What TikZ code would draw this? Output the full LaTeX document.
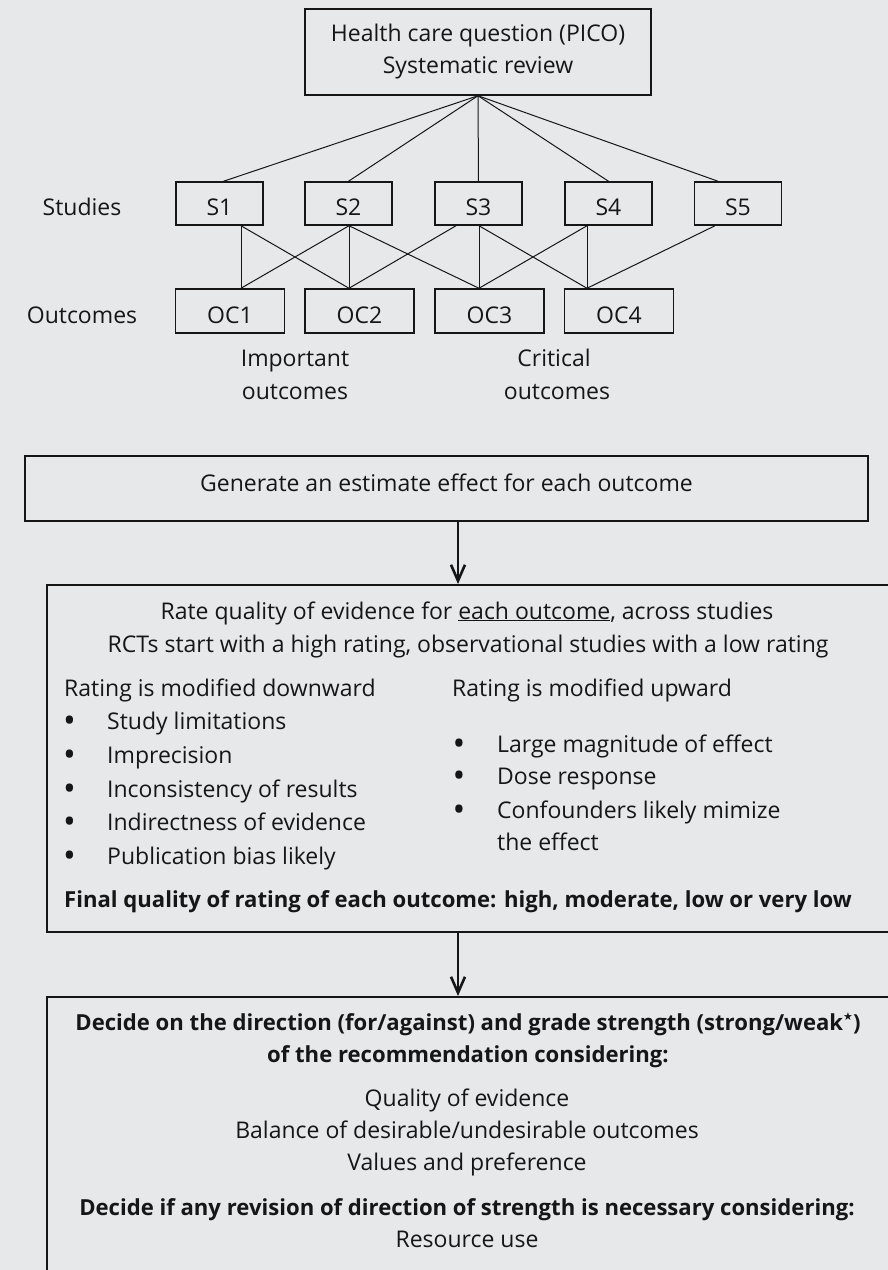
\documentclass[tikz,border=0pt]{standalone}
\usepackage{fontspec}
\setmainfont{Open Sans}
\newfontfamily\djv{DejaVu Sans}
\usetikzlibrary{arrows.meta}
\definecolor{bg}{RGB}{231,232,234}
\definecolor{ink}{RGB}{22,22,22}
\newcommand{\bul}{{\fontsize{34}{32}\selectfont\raisebox{-3.5pt}{\textbullet}}}
\newcommand{\supstar}{\raisebox{10pt}{\djv\fontsize{11}{11}\selectfont ★}}
\begin{document}
\begin{tikzpicture}[x=1pt,y=-1pt,
  every node/.style={font=\fontsize{23}{32}\selectfont, text=ink, inner sep=0pt},
  box/.style={draw=ink, line width=1.5pt, rectangle},
  sbox/.style={box, minimum width=87pt, minimum height=43pt, text height=23pt, text depth=0pt},
  obox/.style={box, minimum width=109pt, minimum height=44pt, text height=24pt, text depth=0pt},
  link/.style={draw=ink, line width=1pt},
  arr/.style={draw=ink, line width=1.5pt, -{Straight Barb[length=16pt,width=14pt,line width=2.6pt]}},
  txt/.style={anchor=base},
  ltxt/.style={anchor=base west},
  btxt/.style={anchor=base, font=\fontsize{22.1}{32}\selectfont\bfseries},
]
\useasboundingbox (0,0) rectangle (888,1270);
\fill[bg] (0,0) rectangle (888,1270);
\clip (0,0) rectangle (888,1270);

% top box
\node[box, minimum width=346pt, minimum height=86pt, align=center] (q) at (478,52) {Health care question (PICO)\\Systematic review};

% studies
\node[txt] (studies) at (82,215) {Studies};
\node[sbox] (S1) at (219.5,203.5) {S1};
\node[sbox] (S2) at (348.5,203.5) {S2};
\node[sbox] (S3) at (478.5,203.5) {S3};
\node[sbox] (S4) at (608.5,203.5) {S4};
\node[sbox] (S5) at (738,203.5) {S5};

% outcomes
\node[txt] (outcomes) at (82,323) {Outcomes};
\node[obox] (OC1) at (230,311) {OC1};
\node[obox] (OC2) at (359.5,311) {OC2};
\node[obox] (OC3) at (489.5,311) {OC3};
\node[obox] (OC4) at (619,311) {OC4};

\node[txt] (imp1) at (295,366) {Important};
\node[txt] (imp2) at (295,399) {outcomes};
\node[txt] (crit1) at (554,366) {Critical};
\node[txt] (crit2) at (557,399) {outcomes};

% fan
\draw[link] (q.south) -- ([xshift=4pt]S1.north);
\draw[link] (q.south) -- (S2.north);
\draw[link] (q.south) -- (S3.north);
\draw[link] (q.south) -- (S4.north);
\draw[link] (q.south) -- ([xshift=-20pt]S5.north);

% study-outcome links
\draw[link] ([xshift=21.5pt]S1.south) -- ([xshift=11pt]OC1.north);
\draw[link] ([xshift=21.5pt]S1.south) -- ([xshift=-10.5pt]OC2.north);
\draw[link] ([xshift=0.5pt]S2.south) -- ([xshift=11pt]OC1.north);
\draw[link] ([xshift=0.5pt]S2.south) -- ([xshift=-10.5pt]OC2.north);
\draw[link] ([xshift=0.5pt]S2.south) -- ([xshift=-10.5pt]OC3.north);
\draw[link] ([xshift=-22.5pt]S3.south) -- ([xshift=-10.5pt]OC2.north);
\draw[link] ([xshift=0.5pt]S3.south) -- ([xshift=-10.5pt]OC3.north);
\draw[link] ([xshift=0.5pt]S3.south) -- ([xshift=-32pt]OC4.north);
\draw[link] ([xshift=-21.5pt]S4.south) -- ([xshift=-10.5pt]OC3.north);
\draw[link] ([xshift=-21.5pt]S4.south) -- ([xshift=-32pt]OC4.north);
\draw[link] ([xshift=-23pt]S5.south) -- ([xshift=-32pt]OC4.north);

% generate box
\node[box, minimum width=843pt, minimum height=65pt, text height=17pt, text depth=12pt] (gen) at (446.5,488.5) {Generate an estimate effect for each outcome};

% rating box
\node[box, anchor=north west, minimum width=880pt, minimum height=347pt] (rate) at (46,584) {};
\coordinate (a1s) at ([xshift=11.5pt]gen.south);
\draw[arr] (a1s) -- (a1s |- rate.north);

\node[txt] (r1) at (467,619) {Rate quality of evidence for \underline{each outcome}, across studies};
\node[txt] (r2) at (468,652) {RCTs start with a high rating, observational studies with a low rating};

\node[ltxt] (down) at (64,696) {Rating is modified downward};
\node[txt] (b1) at (69.5,729) {\bul};
\node[ltxt] (d1) at (107,729) {Study limitations};
\node[txt] (b2) at (69.5,763) {\bul};
\node[ltxt] (d2) at (107,763) {Imprecision};
\node[txt] (b3) at (69.5,797) {\bul};
\node[ltxt] (d3) at (107,797) {Inconsistency of results};
\node[txt] (b4) at (69.5,830) {\bul};
\node[ltxt] (d4) at (107,830) {Indirectness of evidence};
\node[txt] (b5) at (69.5,864) {\bul};
\node[ltxt] (d5) at (107,864) {Publication bias likely};

\node[ltxt] (up) at (452,696) {Rating is modified upward};
\node[txt] (c1) at (459,752) {\bul};
\node[ltxt] (u1) at (497,752) {Large magnitude of effect};
\node[txt] (c2) at (459,784) {\bul};
\node[ltxt] (u2) at (497,784) {Dose response};
\node[txt] (c3) at (459,818) {\bul};
\node[ltxt] (u3) at (497,818) {Confounders likely mimize};
\node[ltxt] (u4) at (497,850) {the effect};

\node[btxt, anchor=base west] (final) at (64,907) {Final quality of rating of each outcome: high, moderate, low or very low};

% decision box
\node[box, anchor=north west, minimum width=880pt, minimum height=320pt] (dec) at (46,996) {};
\coordinate (a2s) at (rate.south -| a1s);
\draw[arr] (a2s) -- (a2s |- dec.north);

\node[btxt] (e1) at (468,1030) {Decide on the direction (for/against) and grade strength (strong/weak\supstar)};
\node[btxt] (e2) at (468,1062) {of the recommendation considering:};
\node[txt] (e3) at (467,1106) {Quality of evidence};
\node[txt] (e4) at (467,1138) {Balance of desirable/undesirable outcomes};
\node[txt] (e5) at (467,1170) {Values and preference};
\node[btxt] (e6) at (467,1215) {Decide if any revision of direction of strength is necessary considering:};
\node[txt] (e7) at (467,1247) {Resource use};
\end{tikzpicture}
\end{document}
